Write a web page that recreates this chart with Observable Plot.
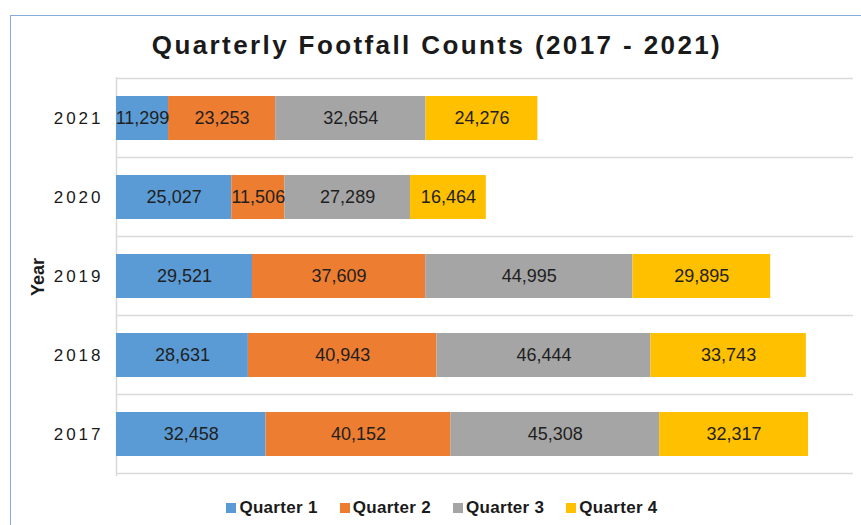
<!DOCTYPE html>
<html><head><meta charset="utf-8">
<script src="https://cdn.jsdelivr.net/npm/d3@7"></script>
<script src="https://cdn.jsdelivr.net/npm/@observablehq/plot@0.6"></script>
<style>
body{margin:0;background:#fff;font-family:Arial,"Liberation Sans",sans-serif;}
#wrap{position:relative;width:861px;height:525px;overflow:hidden;background:#fff;}
#border{position:absolute;left:10px;top:15px;width:900px;height:600px;border:1px solid #86acd9;box-sizing:border-box;}
#title{position:absolute;left:13px;right:0;top:30px;height:30px;line-height:30px;text-align:center;font-weight:bold;font-size:26px;letter-spacing:2.4px;color:#1a1a1a;}
#chart{position:absolute;left:0;top:62px;}
#legend{position:absolute;left:23px;right:0;top:495px;height:26px;display:flex;justify-content:center;align-items:center;gap:22px;font-weight:bold;font-size:17px;letter-spacing:0.3px;color:#1a1a1a;}
#legend .item{display:flex;align-items:center;gap:3px;}
#legend .sw{width:10px;height:10px;display:inline-block;}
#chart g[aria-label="y-axis tick label"]{font-size:17px;letter-spacing:3px;fill:#1a1a1a;}
#chart g[aria-label="y-axis label"]{font-size:18px;font-weight:bold;fill:#1a1a1a;}
</style>
</head><body>
<div id="wrap">
<div id="border"></div>
<div id="title">Quarterly Footfall Counts (2017 - 2021)</div>
<div id="chart"></div>
<div id="legend"></div>
</div>
<script>
const years = ["2021", "2020", "2019", "2018", "2017"];
const quarters = ["Quarter 1", "Quarter 2", "Quarter 3", "Quarter 4"];
const q1 = [11299, 25027, 29521, 28631, 32458];
const q2 = [23253, 11506, 37609, 40943, 40152];
const q3 = [32654, 27289, 44995, 46444, 45308];
const q4 = [24276, 16464, 29895, 33743, 32317];
const colors = ["#5B9BD5", "#ED7D31", "#A5A5A5", "#FFC000"];
const xMax = 160000;

const series = [q1, q2, q3, q4];
const data = [];
quarters.forEach((q, qi) => years.forEach((y, yi) => data.push({year: y, quarter: q, value: series[qi][yi]})));
const fmt = d3.format(",");

function bandLines(index, scales, values, dims) {
  const y = scales.y, x = scales.x;
  const bw = typeof y.bandwidth === "function" ? y.bandwidth() : 0;
  const step = typeof y.step === "function" ? y.step() : Math.abs(y(years[1]) - y(years[0]));
  const half = (step - bw) / 2;
  const ys = years.map(v => y(v) - half);
  ys.push(y(years[years.length - 1]) + bw + half);
  const g = d3.create("svg:g");
  g.selectAll("line").data(ys).join("line")
    .attr("x1", x(0)).attr("x2", x(xMax))
    .attr("y1", d => d).attr("y2", d => d)
    .attr("stroke", "#d9d9d9").attr("stroke-width", 1.5);
  return g.node();
}

const chart = Plot.plot({
  width: 861,
  height: 430,
  marginTop: 15,
  marginBottom: 16,
  marginLeft: 116,
  marginRight: 8,
  style: {fontFamily: "Arial, 'Liberation Sans', sans-serif", background: "transparent"},
  x: {domain: [0, xMax], axis: null},
  y: {domain: years, paddingInner: 0.44, paddingOuter: 0.22, label: "Year"},
  color: {domain: quarters, range: colors},
  marks: [
    bandLines,
    Plot.ruleX([0], {stroke: "#d9d9d9", strokeWidth: 1.5}),
    Plot.barX(data, Plot.stackX({x: "value", y: "year", fill: "quarter", z: "quarter"})),
    Plot.text(data, Plot.stackX({x: "value", y: "year", z: "quarter", text: d => fmt(d.value), fill: "#1f1f1f", fontSize: 18})),
    Plot.axisY({tickSize: 0, tickPadding: 13, label: "Year", labelAnchor: "center", labelOffset: 85})
  ]
});
document.getElementById("chart").appendChild(chart);

const legend = d3.select("#legend");
quarters.forEach((q, i) => {
  const it = legend.append("div").attr("class", "item");
  it.append("span").attr("class", "sw").style("background", colors[i]);
  it.append("span").text(q);
});
</script>
</body></html>
